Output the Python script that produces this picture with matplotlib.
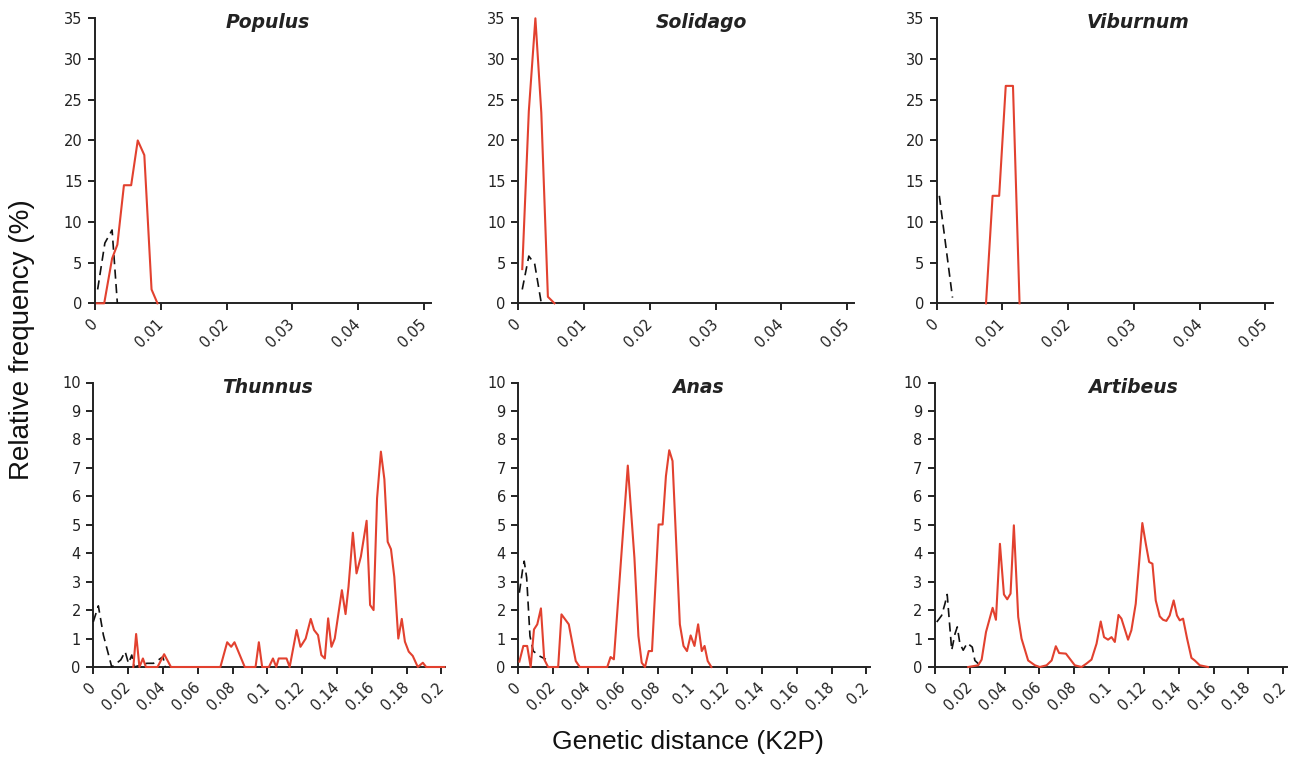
import matplotlib
matplotlib.use("Agg")
import matplotlib.pyplot as plt

# --- data (K2P distance, relative frequency %) ---
# top row: red = interspecific, black dashed = intraspecific
populus_red_x = [0.0003, 0.0014, 0.0026, 0.0034, 0.0044, 0.0055, 0.0065, 0.0075, 0.0086, 0.0095]
populus_red_y = [0, 0, 5.5, 7.2, 14.5, 14.5, 20.0, 18.2, 1.7, 0]
populus_blk_x = [0.0004, 0.0015, 0.0026, 0.0034]
populus_blk_y = [1.7, 7.4, 9.0, 0]

solidago_red_x = [0.0006, 0.0016, 0.0026, 0.0035, 0.0045, 0.0055]
solidago_red_y = [4.2, 23.6, 35.0, 23.4, 0.8, 0]
solidago_blk_x = [0.0006, 0.0016, 0.0025, 0.0035]
solidago_blk_y = [1.7, 5.8, 4.8, 0]

viburnum_red_x = [0.0075, 0.0085, 0.0095, 0.0105, 0.0116, 0.0126]
viburnum_red_y = [0, 13.2, 13.2, 26.7, 26.7, 0]
viburnum_blk_x = [0.0004, 0.0024]
viburnum_blk_y = [13.2, 0.7]

# bottom row
thunnus_red_x = [0.023, 0.0246, 0.0265, 0.0285, 0.0302, 0.0369, 0.0407, 0.0446, 0.073, 0.0769,
                 0.0792, 0.0811, 0.087, 0.0932, 0.0951, 0.097, 0.1009, 0.1032, 0.1051, 0.1065,
                 0.111, 0.1128, 0.1168, 0.119, 0.122, 0.1249, 0.1268, 0.1291, 0.131, 0.133,
                 0.1349, 0.1368, 0.1387, 0.1428, 0.1449, 0.1466, 0.1491, 0.1512, 0.1537, 0.157,
                 0.159, 0.161, 0.163, 0.1652, 0.1672, 0.1691, 0.171, 0.1729, 0.1752, 0.1772,
                 0.179, 0.1812, 0.1835, 0.1864, 0.1893, 0.1912, 0.2017]
thunnus_red_y = [0, 1.16, 0, 0.3, 0, 0, 0.45, 0, 0, 0.87,
                 0.71, 0.87, 0, 0, 0.87, 0, 0, 0.3, 0, 0.3,
                 0.3, 0, 1.3, 0.71, 1.0, 1.69, 1.3, 1.12, 0.42, 0.3,
                 1.71, 0.71, 1.0, 2.7, 1.86, 2.82, 4.72, 3.29, 3.88, 5.14,
                 2.18, 2.0, 5.93, 7.57, 6.6, 4.4, 4.14, 3.17, 1.0, 1.69,
                 0.89, 0.54, 0.39, 0, 0.15, 0, 0]
thunnus_blk_x = [0, 0.0029, 0.0058, 0.0106, 0.0158, 0.0183, 0.0202, 0.0221, 0.0235, 0.0308,
                 0.0346, 0.040, 0.0413]
thunnus_blk_y = [1.59, 2.15, 1.12, 0, 0.25, 0.54, 0.13, 0.42, 0, 0.13,
                 0.13, 0.36, 0]

anas_red_x = [0.0006, 0.0029, 0.0051, 0.0071, 0.009, 0.0109, 0.013, 0.0149, 0.0171, 0.0229,
              0.0248, 0.029, 0.033, 0.0353, 0.0511, 0.053, 0.0549, 0.0629, 0.0667, 0.069,
              0.0709, 0.0728, 0.0749, 0.0768, 0.0806, 0.0829, 0.0848, 0.0867, 0.0886, 0.0928,
              0.0949, 0.0969, 0.099, 0.1012, 0.1033, 0.1054, 0.107, 0.1088, 0.1109]
anas_red_y = [0.19, 0.74, 0.74, 0, 1.32, 1.5, 2.06, 0.27, 0, 0,
              1.85, 1.5, 0.21, 0, 0, 0.35, 0.27, 7.08, 3.84, 1.09,
              0.15, 0, 0.56, 0.56, 5.01, 5.01, 6.71, 7.62, 7.24, 1.5,
              0.74, 0.56, 1.11, 0.74, 1.5, 0.56, 0.74, 0.21, 0]
anas_blk_x = [0.0006, 0.0025, 0.0034, 0.0048, 0.0067, 0.0086, 0.012, 0.0158]
anas_blk_y = [2.61, 3.43, 3.72, 3.14, 1.09, 0.56, 0.39, 0.27]

artibeus_red_x = [0.0191, 0.0248, 0.0268, 0.0293, 0.0331, 0.035, 0.0373, 0.0396, 0.0415, 0.0434,
                  0.0453, 0.0478, 0.0497, 0.0535, 0.0574, 0.0602, 0.0641, 0.067, 0.0694, 0.0713,
                  0.0752, 0.0803, 0.0842, 0.087, 0.0899, 0.0928, 0.0952, 0.0971, 0.0994, 0.1014,
                  0.1033, 0.1054, 0.1071, 0.1109, 0.1128, 0.1153, 0.1172, 0.1191, 0.1211, 0.123,
                  0.1249, 0.1268, 0.1291, 0.131, 0.1329, 0.1348, 0.1371, 0.139, 0.1406, 0.1425,
                  0.1448, 0.1473, 0.1492, 0.1521, 0.1568]
artibeus_red_y = [0, 0.06, 0.26, 1.23, 2.08, 1.66, 4.33, 2.55, 2.38, 2.58,
                  4.98, 1.76, 1.0, 0.23, 0.06, 0, 0.06, 0.23, 0.73, 0.49,
                  0.47, 0.06, 0, 0.12, 0.26, 0.82, 1.6, 1.05, 0.96, 1.05,
                  0.88, 1.83, 1.7, 0.96, 1.29, 2.22, 3.63, 5.06, 4.33, 3.69,
                  3.63, 2.34, 1.78, 1.66, 1.62, 1.81, 2.34, 1.81, 1.64, 1.7,
                  1.0, 0.32, 0.23, 0.06, 0]
artibeus_blk_x = [0.001, 0.0038, 0.0057, 0.007, 0.0096, 0.0115, 0.0128, 0.0143, 0.0162, 0.0185,
                  0.0214, 0.0229, 0.0248]
artibeus_blk_y = [1.58, 1.81, 2.22, 2.55, 0.59, 1.17, 1.41, 0.82, 0.59, 0.84,
                  0.7, 0.23, 0.12]

top_xticks = [0, 0.01, 0.02, 0.03, 0.04, 0.05]
top_xlabels = ["0", "0.01", "0.02", "0.03", "0.04", "0.05"]
bot_xticks = [0, 0.02, 0.04, 0.06, 0.08, 0.1, 0.12, 0.14, 0.16, 0.18, 0.2]
bot_xlabels = ["0", "0.02", "0.04", "0.06", "0.08", "0.1", "0.12", "0.14", "0.16", "0.18", "0.2"]

RED = "#e2412f"
INK = "#222222"
W, H = 1292, 759

fig = plt.figure(figsize=(W / 100, H / 100), dpi=100)


def px_axes(x0, y_top, w, h):
    return fig.add_axes([x0 / W, 1 - (y_top + h) / H, w / W, h / H])


def style(ax, xmax, ymax, yticks, xticks, xlabels):
    ax.set_xlim(0, xmax)
    ax.set_ylim(0, ymax)
    for s in ("top", "right"):
        ax.spines[s].set_visible(False)
    for s in ("left", "bottom"):
        ax.spines[s].set_linewidth(1.4)
        ax.spines[s].set_color(INK)
    ax.set_yticks(yticks)
    ax.set_yticklabels([str(v) for v in yticks])
    ax.set_xticks(xticks)
    ax.set_xticklabels(xlabels, rotation=45, ha="right", va="center", rotation_mode="anchor")
    ax.tick_params(axis="both", direction="out", length=5, width=1.4, color=INK,
                   labelsize=10.5, labelcolor=INK)
    ax.tick_params(axis="x", pad=8)
    ax.tick_params(axis="y", pad=4)


def draw(ax, rx, ry, bx, by):
    ax.plot(bx, by, color="#111111", lw=1.2, linestyle=(0, (5.5, 3.2)), zorder=3, clip_on=False)
    ax.plot(rx, ry, color=RED, lw=1.5, zorder=4, clip_on=False)


top = [
    (95, "Populus", 268, populus_red_x, populus_red_y, populus_blk_x, populus_blk_y),
    (518.3, "Solidago", 701, solidago_red_x, solidago_red_y, solidago_blk_x, solidago_blk_y),
    (936.7, "Viburnum", 1138, viburnum_red_x, viburnum_red_y, viburnum_blk_x, viburnum_blk_y),
]
bottom = [
    (93.3, "Thunnus", 267, thunnus_red_x, thunnus_red_y, thunnus_blk_x, thunnus_blk_y),
    (518.3, "Anas", 698, anas_red_x, anas_red_y, anas_blk_x, anas_blk_y),
    (935, "Artibeus", 1133, artibeus_red_x, artibeus_red_y, artibeus_blk_x, artibeus_blk_y),
]

for x0, name, tx, rx, ry, bx, by in top:
    ax = px_axes(x0, 18.3, 336, 285)
    style(ax, 0.0511, 35, list(range(0, 36, 5)), top_xticks, top_xlabels)
    draw(ax, rx, ry, bx, by)
    fig.text(tx / W, 1 - 22 / H, name, ha="center", va="center", fontsize=13.5,
             fontweight="bold", fontstyle="italic", color=INK)

for x0, name, tx, rx, ry, bx, by in bottom:
    ax = px_axes(x0, 382.5, 352, 284.5)
    style(ax, 0.2022, 10, list(range(0, 11)), bot_xticks, bot_xlabels)
    draw(ax, rx, ry, bx, by)
    fig.text(tx / W, 1 - 387 / H, name, ha="center", va="center", fontsize=13.5,
             fontweight="bold", fontstyle="italic", color=INK)

fig.text(22 / W, 1 - 340 / H, "Relative frequency (%)", rotation=90, ha="center", va="center",
         fontsize=20, family="Liberation Sans", color="#111111")
fig.text(688 / W, 1 - 742 / H, "Genetic distance (K2P)", ha="center", va="center",
         fontsize=19, family="Liberation Sans", color="#111111")

fig.savefig("out.png", dpi=100)
